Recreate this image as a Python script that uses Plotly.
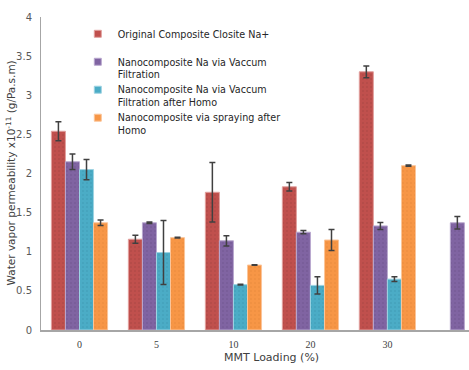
import plotly.graph_objects as go

categories = ["0", "5", "10", "20", "30", " "]

series_names = [
    "Original Composite Closite Na+<br>\u00a0",
    "Nanocomposite Na via Vaccum<br>Filtration",
    "Nanocomposite Na via Vaccum<br>Filtration after Homo",
    "Nanocomposite via spraying after<br>Homo",
]

original_vals = [2.54, 1.16, 1.76, 1.83, 3.30, None]
original_err = [0.12, 0.05, 0.38, 0.055, 0.075, None]

vacuum_vals = [2.15, 1.37, 1.14, 1.25, 1.33, 1.37]
vacuum_err = [0.10, 0.01, 0.065, 0.02, 0.045, 0.08]

vacuum_homo_vals = [2.05, 0.99, 0.58, 0.57, 0.65, None]
vacuum_homo_err = [0.13, 0.41, 0.005, 0.11, 0.03, None]

spray_vals = [1.37, 1.18, 0.83, 1.15, 2.10, None]
spray_err = [0.035, 0.005, 0.003, 0.135, 0.008, None]

colors = ["#C0504D", "#8064A2", "#4BACC6", "#F79646"]
dark = ["#A84643", "#70558F", "#3E9AB3", "#E88A3C"]
edge = ["#E2A09E", "#B9A8CF", "#9ED3E2", "#FBC59A"]

values = [original_vals, vacuum_vals, vacuum_homo_vals, spray_vals]
errors = [original_err, vacuum_err, vacuum_homo_err, spray_err]

fig = go.Figure()
for i in range(4):
    fig.add_trace(go.Bar(
        x=categories,
        y=values[i],
        name=series_names[i],
        showlegend=False,
        legendgroup=str(i),
        marker=dict(
            color=colors[i],
            line=dict(color=edge[i], width=1),
            pattern=dict(shape=".", fgcolor=dark[i], bgcolor=colors[i],
                         size=4, solidity=0.12, fillmode="replace"),
        ),
        error_y=dict(type="data", array=errors[i], visible=True,
                     color="#404040", thickness=1.5, width=3),
    ))
# legend entries with small square swatches
for i in range(4):
    fig.add_trace(go.Scatter(
        x=[None], y=[None], mode="markers",
        name=series_names[i],
        legendgroup=str(i),
        marker=dict(symbol="square", size=7, color=colors[i],
                    line=dict(color=edge[i], width=1)),
    ))

fig.update_layout(
    width=469,
    height=370,
    margin=dict(l=41, r=0, t=17, b=40),
    paper_bgcolor="white",
    plot_bgcolor="white",
    barmode="group",
    bargap=0.27,
    bargroupgap=0,
    font=dict(family="DejaVu Sans", size=10, color="#404040"),
    legend=dict(
        x=0.086, y=0.987, xanchor="left", yanchor="top",
        bgcolor="rgba(0,0,0,0)",
        font=dict(family="DejaVu Sans", size=9.6, color="#262626"),
        valign="top",
        itemwidth=30,
        tracegroupgap=0,
    ),
    showlegend=True,
)

fig.update_xaxes(
    type="category",
    range=[-0.5, 5.06],
    automargin=False,
    showline=True, linecolor="#A6A6A6", linewidth=1.5,
    showgrid=False, ticks="",
    tickfont=dict(family="Liberation Serif", size=10, color="#404040"),
    ticklabelstandoff=4,
)
fig.update_yaxes(
    range=[0, 4],
    dtick=0.5,
    automargin=False,
    showline=True, linecolor="#A6A6A6", linewidth=1,
    showgrid=False, ticks="",
    zeroline=False,
    tickfont=dict(family="DejaVu Sans", size=10, color="#595959"),
    ticklabelstandoff=6,
)

fig.add_annotation(
    x=0, y=0.5, xref="paper", yref="paper",
    xshift=-31, xanchor="center", yanchor="middle", showarrow=False,
    textangle=-90,
    text="Water vapor permeability x10<sup>-11</sup> (g/Pa.s.m)",
    font=dict(family="DejaVu Sans", size=10.5, color="#404040"),
)

fig.add_annotation(
    x=2.5, y=0, xref="x", yref="paper",
    yshift=-27, yanchor="middle", showarrow=False,
    text="MMT Loading (%)",
    font=dict(family="DejaVu Sans", size=11, color="#404040"),
)

fig.write_html("out.html",
               config={"displayModeBar": False},
               post_script="document.body.style.margin='0px';document.body.style.overflow='hidden';")
